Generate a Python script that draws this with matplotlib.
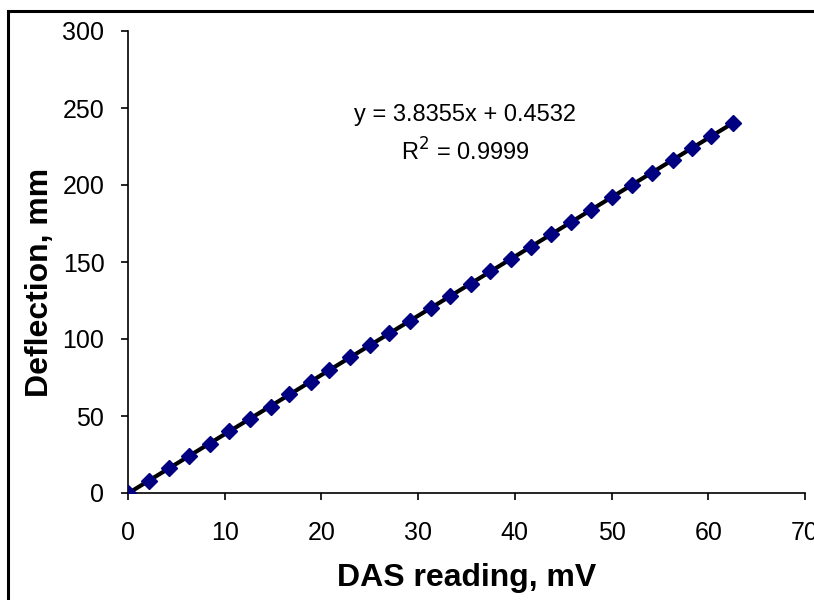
import numpy as np
import matplotlib
matplotlib.use("Agg")
import matplotlib.pyplot as plt
from matplotlib.patches import Rectangle

plt.rcParams['font.family'] = ['Liberation Sans', 'DejaVu Sans']

# DAS reading (mV) and deflection (mm)
das_mv = [0, 2.2, 4.2, 6.3, 8.5, 10.4, 12.6, 14.8, 16.6, 18.9, 20.8,
          23.0, 25.0, 27.0, 29.2, 31.3, 33.3, 35.5, 37.4, 39.6, 41.7,
          43.7, 45.8, 47.9, 50.0, 52.1, 54.2, 56.3, 58.3, 60.3, 62.6]
deflection_mm = [0, 8, 16, 24, 32, 40, 48, 56, 64, 72, 80, 88, 96, 104,
                 112, 120, 128, 136, 144, 152, 160, 168, 176, 184, 192,
                 200, 208, 216, 224, 232, 240]
eq_text = "y = 3.8355x + 0.4532"
r2_text = "R$^2$ = 0.9999"

x = np.array(das_mv)
y = np.array(deflection_mm)
slope, icpt = np.polyfit(x, y, 1)
xf = np.array([x.min(), x.max()])

fig = plt.figure(figsize=(8.14, 6.0), dpi=100)
ax = fig.add_axes([128 / 814, 1 - 493 / 600, (805 - 128) / 814, (493 - 31) / 600])

ax.plot(xf, slope * xf + icpt, color='black', lw=3, zorder=2)
ax.plot(x, y, linestyle='none', marker='D', ms=8.5, color='#000080', zorder=3)

ax.set_xlim(0, 70)
ax.set_ylim(0, 300)
ax.set_xticks(range(0, 71, 10))
ax.set_yticks(range(0, 301, 50))
for s in ['top', 'right']:
    ax.spines[s].set_visible(False)
for s in ['left', 'bottom']:
    ax.spines[s].set_linewidth(1.2)
ax.tick_params(direction='out', length=5, width=1.2, labelsize=18)
ax.tick_params(axis='x', pad=15)
ax.tick_params(axis='y', pad=12)

ax.set_xlabel("DAS reading, mV", fontsize=23, fontweight='bold')
ax.set_ylabel("Deflection, mm", fontsize=23, fontweight='bold')
ax.xaxis.set_label_coords(467 / 814, 1 - 578 / 600, transform=fig.transFigure)
ax.yaxis.set_label_coords(40 / 814, 1 - 282 / 600, transform=fig.transFigure)
ax.xaxis.label.set_va('center')
ax.yaxis.label.set_va('center')

fig.text(465 / 814, 1 - 115 / 600, eq_text, ha='center', va='center', fontsize=17)
fig.text(465 / 814, 1 - 152 / 600, r2_text, ha='center', va='center', fontsize=17)

fig.patches.append(Rectangle((8 / 814, -0.1), 1.2, 1 - 11 / 600 + 0.1, transform=fig.transFigure,
                             fill=False, edgecolor='black', lw=2.2, clip_on=False))

fig.savefig("out.png", dpi=100)
